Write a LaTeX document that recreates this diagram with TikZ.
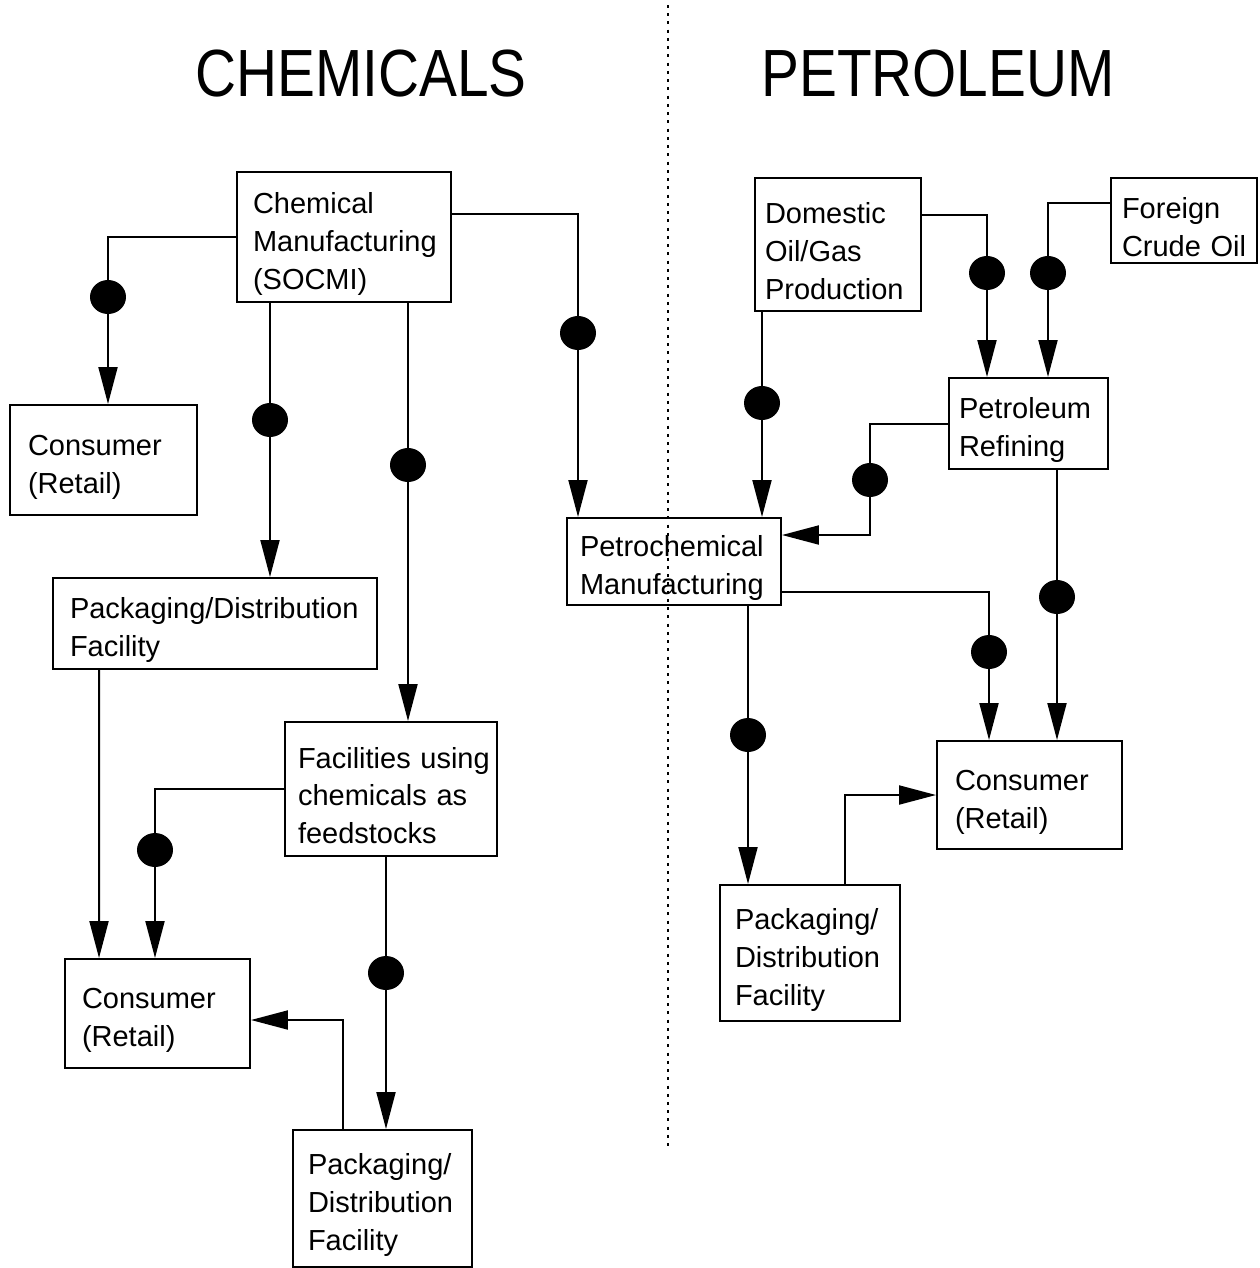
\documentclass[tikz,border=0pt]{standalone}
\usepackage{fontspec}
\setmainfont{Liberation Sans}
\usepackage{tikz}
\usetikzlibrary{arrows.meta,shapes.geometric}
\hyphenpenalty=10000
\exhyphenpenalty=10000

\begin{document}
\begin{tikzpicture}[x=0.02cm,y=-0.02cm]
\tikzstyle{box}=[draw, line width=0.04cm, align=left, inner ysep=0pt, font=\fontsize{16.5}{21.6}\selectfont, execute at begin node={\rule{0pt}{19.5pt}}]
\tikzstyle{dot}=[ellipse, fill=black, inner sep=0pt, minimum width=0.72cm, minimum height=0.68cm]
\tikzstyle{title}=[font=\fontsize{38}{40}\selectfont, xscale=0.85]
\tikzstyle{flow}=[line width=0.04cm, -{Triangle[length=0.74cm,width=0.38cm]}]
\useasboundingbox (0,0) rectangle (1259,1268);

% headings and divider
\draw node at (361,74) [title] (chemtitle) {CHEMICALS};
\draw node at (938,74) [title] (pettitle) {PETROLEUM};
\draw [line width=0.05cm, dash pattern=on 0.06cm off 0.105cm] (668,5) -- (668,1150);

% chemicals side
\draw node at (344,237) [box, text width=3.64cm, inner xsep=0.32cm, minimum height=2.6cm] (chem) {Chemical\\Manufacturing\\(SOCMI)};
\draw node at (103.5,460) [box, text width=3.02cm, inner xsep=0.36cm, minimum height=2.2cm] (conA) {Consumer\\(Retail)};
\draw node at (215,623.5) [box, text width=5.8cm, inner xsep=0.34cm, minimum height=1.82cm] (pkgA) {Packaging/Distribution\\Facility};
\draw node at (391,789) [box, text width=3.72cm, inner xsep=0.26cm, minimum height=2.68cm] (feed) {Facilities~using\\chemicals~as\\feedstocks};
\draw node at (157.5,1013.5) [box, text width=3.02cm, inner xsep=0.34cm, minimum height=2.18cm] (conB) {Consumer\\(Retail)};
\draw node at (382.5,1198.5) [box, text width=2.98cm, inner xsep=0.3cm, minimum height=2.74cm] (pkgB) {Packaging/\\Distribution\\Facility};

% petroleum side
\draw node at (838,244.5) [box, text width=2.92cm, inner xsep=0.2cm, minimum height=2.66cm] (dom) {Domestic\\Oil/Gas\\Production};
\draw node at (1184,220.5) [box, text width=2.48cm, inner xsep=0.22cm, minimum height=1.7cm] (frgn) {Foreign\\Crude~Oil};
\draw node at (1028.5,423.5) [box, text width=2.78cm, inner xsep=0.2cm, minimum height=1.82cm] (refin) {Petroleum\\Refining};
\draw node at (674,561.5) [box, text width=3.76cm, inner xsep=0.26cm, minimum height=1.74cm] (petchem) {Petrochemical\\Manufacturing};
\draw node at (1029.5,795) [box, text width=2.98cm, inner xsep=0.36cm, minimum height=2.16cm] (conC) {Consumer\\(Retail)};
\draw node at (810,953) [box, text width=3.0cm, inner xsep=0.3cm, minimum height=2.72cm] (pkgC) {Packaging/\\Distribution\\Facility};

% dots
\draw node at (108,297) [dot] (dA) {};
\draw node at (270,420) [dot] (dB) {};
\draw node at (408,465) [dot] (dC) {};
\draw node at (578,333) [dot] (dD) {};
\draw node at (155,850) [dot] (dE) {};
\draw node at (386,973) [dot] (dF) {};
\draw node at (762,403) [dot] (dG) {};
\draw node at (987,273) [dot] (dH) {};
\draw node at (1048,273) [dot] (dI) {};
\draw node at (870,480) [dot] (dJ) {};
\draw node at (1057,597) [dot] (dK) {};
\draw node at (989,652) [dot] (dL) {};
\draw node at (748,735) [dot] (dM) {};

\draw [flow] (chem.west) -| (dA) -- (dA |- conA.north);
\draw [flow] (chem.south -| dB) -- (dB) -- (dB |- pkgA.north);
\draw [flow] (chem.south -| dC) -- (dC) -- (dC |- feed.north);
\draw [flow] ([yshift=0.46cm]chem.east) -| (dD) -- (dD |- petchem.north);
\draw [flow] ([xshift=0.94cm]pkgA.south west) -- ([xshift=0.7cm]conB.north west);
\draw [flow] (feed.west) -| (dE) -- (dE |- conB.north);
\draw [flow] (feed.south -| dF) -- (dF) -- (dF |- pkgB.north);
\draw [flow] ([xshift=-0.79cm]pkgB.north) |- ([yshift=-0.13cm]conB.east);

\draw [flow] (dom.south -| dG) -- (dG) -- (dG |- petchem.north);
\draw [flow] ([yshift=0.59cm]dom.east) -| (dH) -- (dH |- refin.north);
\draw [flow] ([yshift=0.35cm]frgn.west) -| (dI) -- (dI |- refin.north);
\draw [flow] (refin.west) -| (dJ) |- ([yshift=0.53cm]petchem.east);
\draw [flow] (refin.south -| dK) -- (dK) -- (dK |- conC.north);
\draw [flow] ([yshift=-0.61cm]petchem.east) -| (dL) -- (dL |- conC.north);
\draw [flow] (petchem.south -| dM) -- (dM) -- (dM |- pkgC.north);
\draw [flow] ([xshift=0.7cm]pkgC.north) |- (conC.west);
\end{tikzpicture}
\end{document}
